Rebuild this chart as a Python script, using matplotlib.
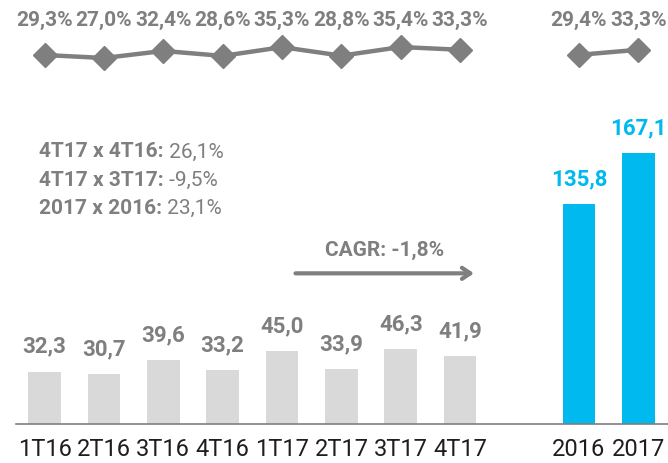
"""
Quarterly and yearly values with margin line on top.
Bars for quarters in light gray, years in blue.
"""

import matplotlib
matplotlib.use("Agg")
import matplotlib.pyplot as plt
from matplotlib import font_manager

# Data
# ----------------------------------------------------------------------
QUARTERS = ["1T16", "2T16", "3T16", "4T16", "1T17", "2T17", "3T17", "4T17"]
QUARTER_VALUES = [32.3, 30.7, 39.6, 33.2, 45.0, 33.9, 46.3, 41.9]
QUARTER_MARGINS = [29.3, 27.0, 32.4, 28.6, 35.3, 28.8, 35.4, 33.3]
YEARS = ["2016", "2017"]
YEAR_VALUES = [135.8, 167.1]
YEAR_MARGINS = [29.4, 33.3]
SUMMARY_KEYS = ["4T17 x 4T16:", "4T17 x 3T17:", "2017 x 2016:"]
SUMMARY_VALUES = ["26,1%", "-9,5%", "23,1%"]
CAGR_TEXT = "CAGR: -1,8%"
# ----------------------------------------------------------------------

# Style
# ----------------------------------------------------------------------
W, H, DPI = 668, 463, 100
GRAY = "#7f7f7f"
BAR_GRAY = "#d9d9d9"
BLUE = "#00b9ef"
TICK_COLOR = "#1e1e1e"

available = {f.name for f in font_manager.fontManager.ttflist}
NARROW = "Liberation Sans Narrow" if "Liberation Sans Narrow" in available else "Roboto"
WIDE = "Roboto"
plt.rcParams["font.family"] = [NARROW, "DejaVu Sans"]
# ----------------------------------------------------------------------


def fmt(v, pct=False):
    s = "{:.1f}".format(v).replace(".", ",")
    return s + "%" if pct else s


def main():
    fig = plt.figure(figsize=(W / DPI, H / DPI), dpi=DPI)
    q_pos = list(range(len(QUARTERS)))
    y_pos = [len(QUARTERS) + 1 + i for i in range(len(YEARS))]
    xlim = (-0.48, 10.5)

    # bars
    ax = fig.add_axes([16 / W, 39 / H, 652 / W, 324 / H])
    ax.bar(q_pos, QUARTER_VALUES, width=0.55, color=BAR_GRAY)
    ax.bar(y_pos, YEAR_VALUES, width=0.55, color=BLUE)
    ax.set_xlim(*xlim)
    ax.set_ylim(0, 200)
    for s in ["top", "left", "right"]:
        ax.spines[s].set_visible(False)
    ax.spines["bottom"].set_color(GRAY)
    ax.spines["bottom"].set_linewidth(1.2)
    ax.set_yticks([])
    ax.set_xticks(q_pos + y_pos)
    ax.set_xticklabels(QUARTERS + YEARS, fontsize=17, color=TICK_COLOR)
    ax.tick_params(axis="x", length=0, pad=10)

    for x, v in zip(q_pos, QUARTER_VALUES):
        ax.annotate(fmt(v), (x, v), xytext=(0, 18), textcoords="offset points",
                    ha="center", va="center", fontsize=16, fontweight="bold",
                    color=GRAY)
    for x, v in zip(y_pos, YEAR_VALUES):
        ax.annotate(fmt(v), (x, v), xytext=(0, 18), textcoords="offset points",
                    ha="center", va="center", fontsize=16, fontweight="bold",
                    color=BLUE)

    # CAGR arrow
    ax.annotate("", xy=(7.28, 93), xytext=(4.18, 93),
                arrowprops=dict(arrowstyle="->,head_length=0.6,head_width=0.4",
                                lw=3, color=GRAY))
    ax.text(5.73, 107, CAGR_TEXT, ha="center", va="center", fontsize=15,
            fontweight="bold", color=GRAY)

    # summary
    for i, (k, v) in enumerate(zip(SUMMARY_KEYS, SUMMARY_VALUES)):
        y = 1 - (152 + 28 * i) / H
        t = fig.text(39 / W, y, k, ha="left", va="center", fontsize=15,
                     fontweight="bold", color=GRAY, family=WIDE)
        ax.annotate(" " + v, xy=(1, 0.5), xycoords=t, ha="left", va="center",
                    fontsize=15, color=GRAY, family=WIDE)

    # margin line
    ax2 = fig.add_axes([16 / W, (H - 80) / H, 652 / W, 50 / H])
    ax2.set_xlim(*xlim)
    ax2.set_ylim(10.2, 48.4)
    ax2.axis("off")
    for xs, ms in [(q_pos, QUARTER_MARGINS), (y_pos, YEAR_MARGINS)]:
        ax2.plot(xs, ms, color=GRAY, lw=3.2, marker="D", markersize=12,
                 clip_on=False)
        for x, m in zip(xs, ms):
            ax2.text(x, 1.2, fmt(m, pct=True), transform=ax2.get_xaxis_transform(),
                     ha="center", va="center", fontsize=15, fontweight="bold",
                     color=GRAY)

    fig.savefig("out.png", dpi=DPI)


if __name__ == "__main__":
    main()
